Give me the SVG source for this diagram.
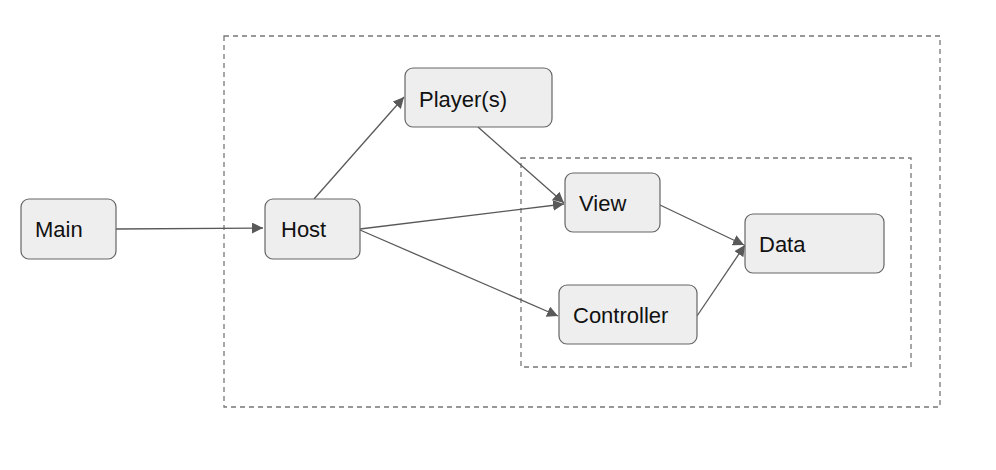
<svg xmlns="http://www.w3.org/2000/svg" width="996" height="470" viewBox="0 0 996 470">
<style>
.node rect{fill:#eeeeee;stroke:#666666;stroke-width:1.2}
.node text{font-family:"Liberation Sans",Arial,sans-serif;font-size:22px;fill:#111111}
.group{fill:none;stroke:#777777;stroke-width:1.3;stroke-dasharray:5 4}
.edge{stroke:#595959;stroke-width:1.3;fill:none;marker-end:url(#arr)}
</style>
<defs>
<marker id="arr" viewBox="0 0 10 10" refX="10" refY="5" markerWidth="11" markerHeight="11" markerUnits="userSpaceOnUse" orient="auto">
<path d="M0,0 L10,5 L0,10 z" fill="#595959"/>
</marker>
</defs>
<rect width="996" height="470" fill="#ffffff"/>
<g id="groups">
<rect class="group" x="224" y="36" width="716" height="371"/>
<rect class="group" x="521" y="158" width="390" height="209"/>
</g>
<g id="connectors">
<line class="edge" x1="116" y1="229" x2="263" y2="228"/>
<line class="edge" x1="314" y1="199" x2="404" y2="97"/>
<line class="edge" x1="478" y1="127" x2="564" y2="203"/>
<line class="edge" x1="360" y1="229" x2="564" y2="204"/>
<line class="edge" x1="360" y1="230" x2="558" y2="316"/>
<line class="edge" x1="660" y1="205" x2="744" y2="245"/>
<line class="edge" x1="697" y1="316" x2="745" y2="245"/>
</g>
<g id="main" class="node"><rect x="21" y="199" width="95" height="60" rx="8"/><text x="35" y="237">Main</text></g>
<g id="host" class="node"><rect x="265" y="199" width="95" height="60" rx="8"/><text x="281" y="237">Host</text></g>
<g id="players" class="node"><rect x="405" y="68" width="147" height="59" rx="8"/><text x="419" y="107">Player(s)</text></g>
<g id="view" class="node"><rect x="565" y="173" width="95" height="59" rx="8"/><text x="579" y="211">View</text></g>
<g id="controller" class="node"><rect x="559" y="285" width="138" height="59" rx="8"/><text x="573" y="323">Controller</text></g>
<g id="data" class="node"><rect x="745" y="214" width="139" height="59" rx="8"/><text x="759" y="252">Data</text></g>
</svg>
